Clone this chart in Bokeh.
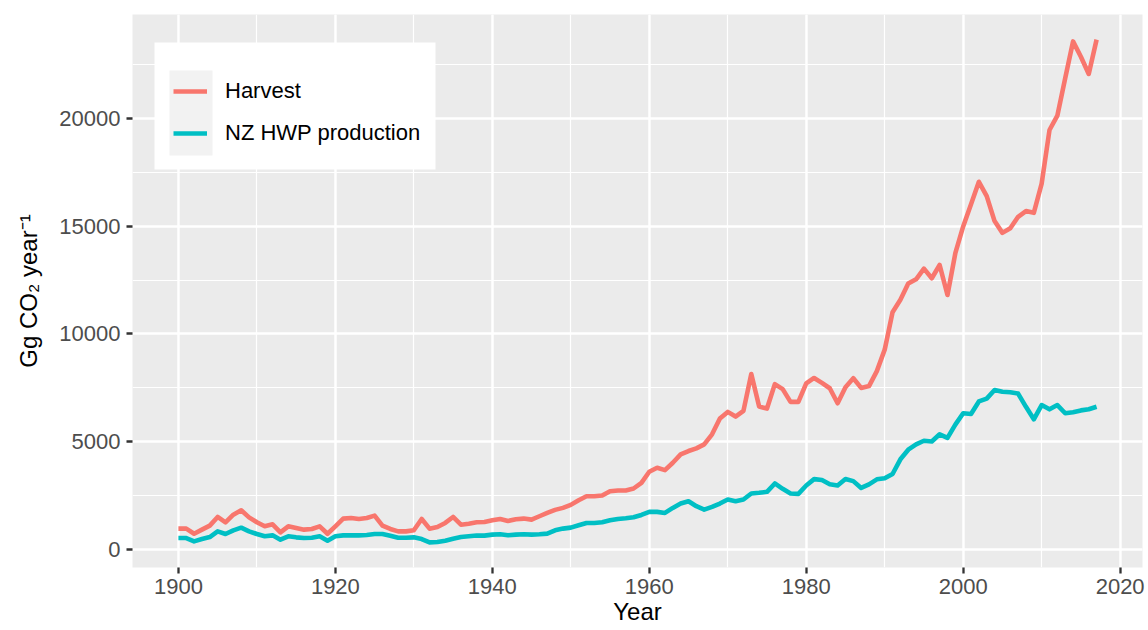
from bokeh.plotting import figure
from bokeh.models import (Range1d, SingleIntervalTicker, Legend, LegendItem,
                          BoxAnnotation, ColumnDataSource)
from bokeh.embed import file_html
from bokeh.resources import INLINE

years = list(range(1900, 2018))

harvest = [975, 975, 740, 930, 1115, 1517, 1270, 1625, 1827, 1500,
           1270, 1084, 1176, 805, 1084, 1006, 930, 960, 1084, 740,
           1084, 1440, 1470, 1424, 1470, 1580, 1115, 960, 850, 850,
           900, 1424, 975, 1050, 1240, 1517, 1160, 1207, 1270, 1287,
           1364, 1426, 1333, 1411, 1442, 1395, 1550, 1705, 1845, 1938,
           2078, 2295, 2480, 2480, 2512, 2713, 2744, 2744, 2837, 3100,
           3612, 3798, 3690, 4031, 4419, 4574, 4698, 4884, 5349, 6078,
           6388, 6171, 6434, 8140, 6636, 6543, 7674, 7442, 6853, 6853,
           7705, 7960, 7732, 7483, 6788, 7533, 7947, 7500, 7583, 8278,
           9272, 11010, 11589, 12334, 12533, 13030, 12583, 13195, 11805, 13742,
           14983, 16010, 17053, 16391, 15232, 14685, 14900, 15430, 15695, 15613,
           16970, 19454, 20116, 21854, 23560, 22848, 22053, 23642]

hwp = [540, 540, 387, 495, 588, 850, 727, 898, 1020, 850,
       727, 620, 665, 465, 620, 573, 540, 557, 620, 418,
       620, 665, 665, 665, 681, 727, 727, 650, 557, 557,
       573, 495, 340, 356, 418, 510, 588, 620, 660, 651,
       698, 713, 667, 698, 713, 698, 713, 744, 900, 977,
       1023, 1132, 1240, 1240, 1271, 1364, 1426, 1457, 1504, 1612,
       1752, 1752, 1705, 1938, 2140, 2248, 2016, 1860, 1984, 2140,
       2326, 2248, 2326, 2605, 2636, 2682, 3070, 2822, 2605, 2589,
       2977, 3270, 3228, 3030, 2980, 3278, 3179, 2864, 3030, 3262,
       3311, 3510, 4189, 4636, 4884, 5050, 5017, 5348, 5182, 5795,
       6325, 6291, 6871, 7003, 7401, 7318, 7301, 7235, 6623, 6043,
       6705, 6507, 6705, 6325, 6374, 6457, 6507, 6623]

series_names = ["Harvest", "NZ HWP production"]
series_colors = ["#F8766D", "#00BFC4"]

# ggplot-style 5% expansion
xmin, xmax = min(years), max(years)
ymin = min(min(harvest), min(hwp))
ymax = max(max(harvest), max(hwp))
xpad = 0.05 * (xmax - xmin)
ypad = 0.05 * (ymax - ymin)

FONT = "Liberation Sans"

p = figure(width=1148, height=630, output_backend="svg", toolbar_location=None,
           x_range=Range1d(xmin - xpad, xmax + xpad),
           y_range=Range1d(ymin - ypad, ymax + ypad),
           min_border_left=132, min_border_right=6, min_border_top=14,
           min_border_bottom=63)

p.background_fill_color = "#EBEBEB"
p.border_fill_color = "white"
p.outline_line_color = None

p.xaxis.ticker = SingleIntervalTicker(interval=20, num_minor_ticks=2)
p.yaxis.ticker = SingleIntervalTicker(interval=5000, num_minor_ticks=2)

for g in (p.xgrid, p.ygrid):
    g.grid_line_color = "white"
    g.grid_line_width = 2.4
    g.minor_grid_line_color = "white"
    g.minor_grid_line_width = 1.2

for ax in (p.xaxis, p.yaxis):
    ax.axis_line_color = None
    ax.major_tick_line_color = "#333333"
    ax.major_tick_line_width = 2.3
    ax.major_tick_out = 6
    ax.major_tick_in = 0
    ax.minor_tick_line_color = None
    ax.major_label_text_font = FONT
    ax.major_label_text_font_size = "22px"
    ax.major_label_text_color = "#4D4D4D"
    ax.axis_label_text_font = FONT
    ax.axis_label_text_font_size = "24px"
    ax.axis_label_text_color = "black"
    ax.axis_label_text_font_style = "normal"

p.xaxis.axis_label = "Year"
p.xaxis.major_label_standoff = 5
p.xaxis.axis_label_standoff = 1
p.yaxis.axis_label = "Gg CO\u2082 year\u207B\u00B9"
p.yaxis.major_label_standoff = 6
p.yaxis.axis_label_standoff = 14
p.yaxis.formatter.use_scientific = False

# legend background boxes (canvas units)
p.add_layout(BoxAnnotation(left=154, right=435, top=42, bottom=169,
                           left_units="canvas", right_units="canvas",
                           top_units="canvas", bottom_units="canvas",
                           fill_color="white", fill_alpha=1, line_color=None))
p.add_layout(BoxAnnotation(left=169, right=212, top=70, bottom=155,
                           left_units="canvas", right_units="canvas",
                           top_units="canvas", bottom_units="canvas",
                           fill_color="#F2F2F2", fill_alpha=1, line_color=None))

renderers = []
for name, vals, col in zip(series_names, [harvest, hwp], series_colors):
    src = ColumnDataSource(dict(x=years, y=vals))
    r = p.line("x", "y", source=src, line_color=col, line_width=4.6,
               line_join="round")
    renderers.append(r)

legend = Legend(items=[LegendItem(label=n, renderers=[r])
                       for n, r in zip(series_names, renderers)],
                location=(41, 413), orientation="vertical",
                padding=0, margin=0, spacing=0,
                glyph_width=34, glyph_height=42, label_height=42,
                label_standoff=18,
                label_text_font=FONT, label_text_font_size="22px",
                label_text_color="black",
                background_fill_alpha=0, border_line_color=None)
p.add_layout(legend)

open("out.html", "w").write(file_html(p, INLINE))
